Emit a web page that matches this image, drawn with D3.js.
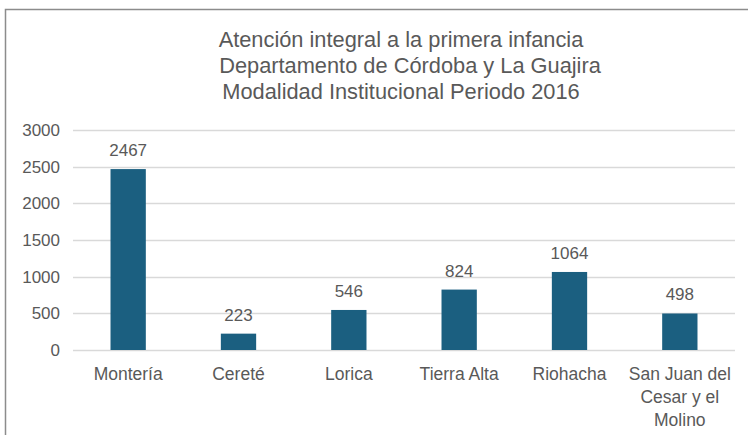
<!DOCTYPE html>
<html><head><meta charset="utf-8">
<script src="https://cdn.jsdelivr.net/npm/d3@7"></script>
<style>body{margin:0;background:#fff}svg{display:block}text{font-family:"Liberation Sans",Arial,sans-serif;fill:#595959}</style>
</head><body><svg id="c" width="748" height="435"></svg>
<script>
const titleLines = ["Atención integral a la primera infancia","Departamento de Córdoba y La Guajira","Modalidad Institucional Periodo 2016"];
const titleShift = [0,9,0];
const categories = [["Montería"],["Cereté"],["Lorica"],["Tierra Alta"],["Riohacha"],["San Juan del","Cesar y el","Molino"]];
const values = [2467,223,546,824,1064,498];
const yTicks = [0,500,1000,1500,2000,2500,3000];

const svg = d3.select("#c");
svg.append("rect").attr("x",5.5).attr("y",9.5).attr("width",760).attr("height",440)
  .attr("fill","#fff").attr("stroke","#8c8c8c").attr("stroke-width",1.5);

const m = {l:73, r:735, t:130, b:350};
const x = d3.scaleBand().domain(d3.range(values.length)).range([m.l,m.r]).paddingInner(0.68).paddingOuter(0.34);
const y = d3.scaleLinear().domain([0,3000]).range([m.b,m.t]);

svg.append("g").selectAll("line").data(yTicks).join("line")
  .attr("x1",m.l).attr("x2",m.r).attr("y1",d=>Math.round(y(d))+0.5).attr("y2",d=>Math.round(y(d))+0.5)
  .attr("stroke","#d9d9d9").attr("stroke-width",1.5);

svg.append("g").selectAll("text").data(yTicks).join("text")
  .attr("x",60).attr("y",d=>y(d)).attr("dy","0.35em").attr("text-anchor","end")
  .attr("font-size",17).text(d=>d);

svg.append("g").selectAll("rect").data(values).join("rect")
  .attr("x",(d,i)=>x(i)).attr("width",x.bandwidth())
  .attr("y",d=>y(d)).attr("height",d=>y(0)-y(d)).attr("fill","#1b5f80");

svg.append("g").selectAll("text").data(values).join("text")
  .attr("x",(d,i)=>x(i)+x.bandwidth()/2).attr("y",d=>y(d)-13)
  .attr("text-anchor","middle").attr("font-size",17).text(d=>d);

const cat = svg.append("g").selectAll("text").data(categories).join("text")
  .attr("x",(d,i)=>x(i)+x.bandwidth()/2).attr("y",380)
  .attr("text-anchor","middle").attr("font-size",17.5);
cat.selectAll("tspan").data(d=>d).join("tspan")
  .attr("x",function(){return this.parentNode.getAttribute("x");})
  .attr("dy",(d,i)=>i?23:0).text(d=>d);

svg.append("g").selectAll("text").data(titleLines).join("text")
  .attr("x",(d,i)=>401+titleShift[i]).attr("y",(d,i)=>47+i*26).attr("text-anchor","middle")
  .attr("font-size",21.8).text(d=>d);
</script></body></html>
